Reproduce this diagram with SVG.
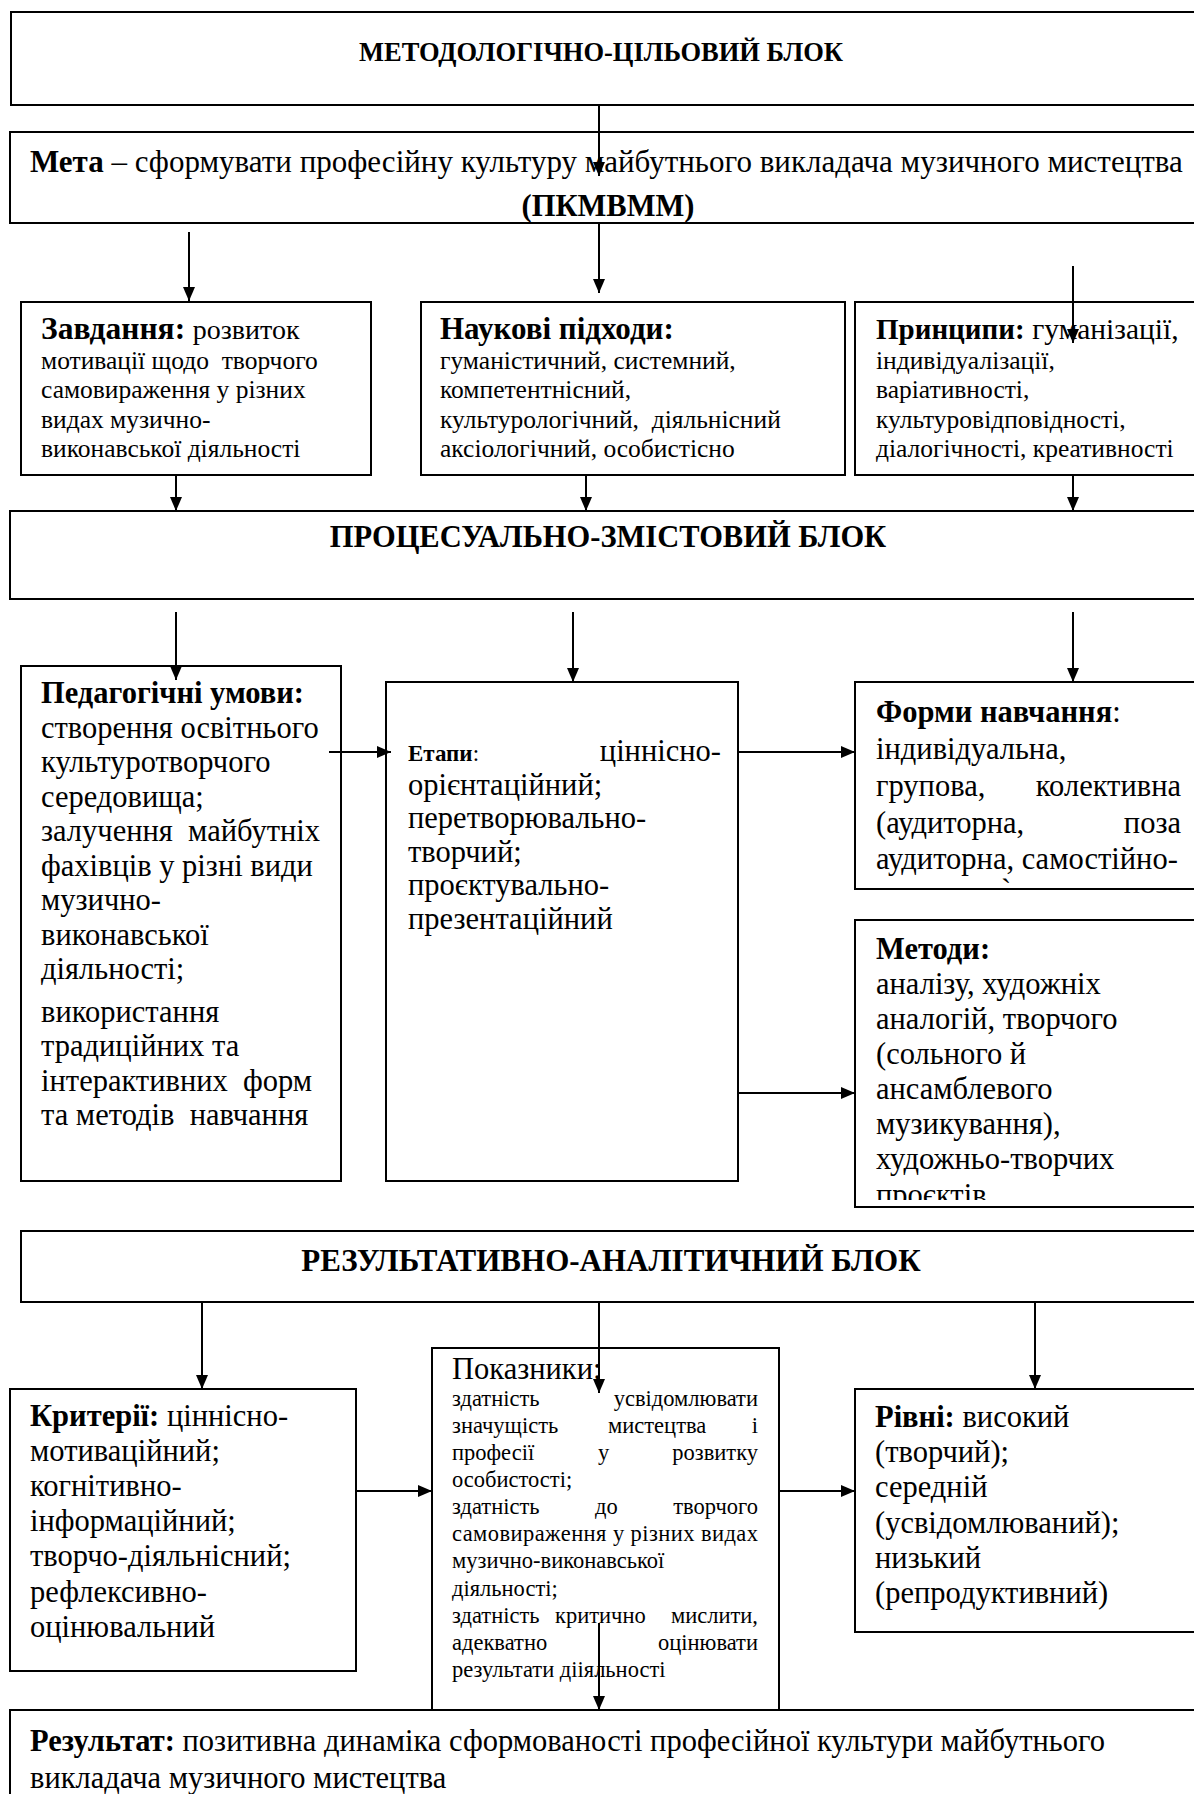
<svg xmlns="http://www.w3.org/2000/svg" width="1194" height="1794" viewBox="0 0 1194 1794">
<style>
.box{fill:#fff;stroke:#000;stroke-width:2}
.t{font-family:"Liberation Serif","Times New Roman",serif;font-size:30.5px;fill:#000}
.s{font-size:25.5px}
.xs{font-size:22.5px}
.b{font-weight:bold}
.h{font-weight:bold;font-size:31px}
.title{font-weight:bold;text-anchor:middle}
.e{text-anchor:end}
.conn{stroke:#000;stroke-width:2;fill:none}
</style>
<defs>
<marker id="ah" markerWidth="14" markerHeight="12" refX="14" refY="6" orient="auto" markerUnits="userSpaceOnUse"><path d="M0,0 L14,6 L0,12 z" fill="#000"/></marker>
<clipPath id="clipMet"><rect x="855" y="920" width="340" height="280"/></clipPath>
</defs>
<rect width="1194" height="1794" fill="#fff"/>

<g id="block1">
<rect class="box" x="11" y="12" width="1200" height="93"/>
<text class="t title" x="601" y="61" style="font-size:26.5px">МЕТОДОЛОГІЧНО-ЦІЛЬОВИЙ БЛОК</text>
</g>

<g id="meta">
<rect class="box" x="10" y="132" width="1200" height="91"/>
<text class="t" x="30" y="172" style="font-size:31px"><tspan class="b">Мета</tspan> – сформувати професійну культуру майбутнього викладача музичного мистецтва</text>
<text class="t title" x="608" y="216">(ПКМВММ)</text>
</g>

<g id="zavdannia">
<rect class="box" x="21" y="302" width="350" height="173"/>
<text class="t" x="41" y="339" xml:space="preserve"><tspan class="b" style="font-size:31.5px">Завдання:</tspan> <tspan style="font-size:28px">розвиток</tspan></text>
<text class="t s" x="41" y="369" xml:space="preserve">мотивації щодо  творчого</text>
<text class="t s" x="41" y="398">самовираження у різних</text>
<text class="t s" x="41" y="428">видах музично-</text>
<text class="t s" x="41" y="457">виконавської діяльності</text>
</g>

<g id="pidkhody">
<rect class="box" x="421" y="302" width="424" height="173"/>
<text class="t h" x="440" y="339">Наукові підходи:</text>
<text class="t s" x="440" y="369">гуманістичний, системний,</text>
<text class="t s" x="440" y="398">компетентнісний,</text>
<text class="t s" x="440" y="428" xml:space="preserve">культурологічний,  діяльнісний</text>
<text class="t s" x="440" y="457">аксіологічний, особистісно</text>
</g>

<g id="pryntsypy">
<rect class="box" x="855" y="302" width="360" height="173"/>
<text class="t" x="876" y="339" xml:space="preserve"><tspan class="b" style="font-size:29px">Принципи:</tspan> <tspan style="font-size:29.5px">гуманізації,</tspan></text>
<text class="t s" x="876" y="369">індивідуалізації,</text>
<text class="t s" x="876" y="398">варіативності,</text>
<text class="t s" x="876" y="428">культуровідповідності,</text>
<text class="t s" x="876" y="457">діалогічності, креативності</text>
</g>

<g id="block2">
<rect class="box" x="10" y="511" width="1200" height="88"/>
<text class="t title" x="608" y="547">ПРОЦЕСУАЛЬНО-ЗМІСТОВИЙ БЛОК</text>
</g>

<g id="umovy">
<rect class="box" x="21" y="666" width="320" height="515"/>
<text class="t b" x="41" y="703">Педагогічні умови:</text>
<text class="t" x="41" y="737.5">створення освітнього</text>
<text class="t" x="41" y="772">культуротворчого</text>
<text class="t" x="41" y="806.5">середовища;</text>
<text class="t" x="41" y="841" xml:space="preserve">залучення  майбутніх</text>
<text class="t" x="41" y="875.5">фахівців у різні види</text>
<text class="t" x="41" y="910">музично-</text>
<text class="t" x="41" y="944.5">виконавської</text>
<text class="t" x="41" y="979">діяльності;</text>
<text class="t" x="41" y="1021.5">використання</text>
<text class="t" x="41" y="1056">традиційних та</text>
<text class="t" x="41" y="1090.5" xml:space="preserve">інтерактивних  форм</text>
<text class="t" x="41" y="1125" xml:space="preserve">та методів  навчання</text>
</g>

<g id="etapy">
<rect class="box" x="386" y="682" width="352" height="499"/>
<text class="t" x="408" y="761" style="font-size:23px"><tspan class="b">Етапи</tspan>:</text>
<text class="t e" x="721" y="761">ціннісно-</text>
<text class="t" x="408" y="794.5">орієнтаційний;</text>
<text class="t" x="408" y="828">перетворювально-</text>
<text class="t" x="408" y="861.5">творчий;</text>
<text class="t" x="408" y="895">проєктувально-</text>
<text class="t" x="408" y="928.5">презентаційний</text>
</g>

<g id="formy">
<rect class="box" x="855" y="682" width="360" height="207"/>
<text class="t" x="876" y="722"><tspan class="b">Форми навчання</tspan>:</text>
<text class="t" x="876" y="759">індивідуальна,</text>
<text class="t" x="876" y="796">групова,</text>
<text class="t e" x="1181" y="796">колективна</text>
<text class="t" x="876" y="833">(аудиторна,</text>
<text class="t e" x="1181" y="833">поза</text>
<text class="t" x="876" y="869">аудиторна, самостійно-</text>
<text class="t" x="1001" y="900">`</text>
</g>

<g id="metody">
<rect class="box" x="855" y="920" width="360" height="287"/>
<g clip-path="url(#clipMet)">
<text class="t b" x="876" y="959">Методи:</text>
<text class="t" x="876" y="994">аналізу, художніх</text>
<text class="t" x="876" y="1029">аналогій, творчого</text>
<text class="t" x="876" y="1064">(сольного й</text>
<text class="t" x="876" y="1099">ансамблевого</text>
<text class="t" x="876" y="1134">музикування),</text>
<text class="t" x="876" y="1169">художньо-творчих</text>
<text class="t" x="876" y="1205">проєктів</text>
</g>
</g>

<g id="block3">
<rect class="box" x="21" y="1231" width="1200" height="71"/>
<text class="t title" x="611" y="1271" style="font-size:31px">РЕЗУЛЬТАТИВНО-АНАЛІТИЧНИЙ БЛОК</text>
</g>

<g id="kryterii">
<rect class="box" x="10" y="1389" width="346" height="282"/>
<text class="t" x="30" y="1426"><tspan class="b">Критерії:</tspan> ціннісно-</text>
<text class="t" x="30" y="1461">мотиваційний;</text>
<text class="t" x="30" y="1496">когнітивно-</text>
<text class="t" x="30" y="1531">інформаційний;</text>
<text class="t" x="30" y="1566">творчо-діяльнісний;</text>
<text class="t" x="30" y="1602">рефлексивно-</text>
<text class="t" x="30" y="1637">оцінювальний</text>
</g>

<g id="pokaznyky">
<rect class="box" x="432" y="1348" width="347" height="362"/>
<text class="t" x="452" y="1379">Показники:</text>
<text class="t xs" x="452" y="1406">здатність</text>
<text class="t xs e" x="758" y="1406">усвідомлювати</text>
<text class="t xs" x="452" y="1433">значущість</text>
<text class="t xs" x="608" y="1433">мистецтва</text>
<text class="t xs e" x="758" y="1433">і</text>
<text class="t xs" x="452" y="1460">професії</text>
<text class="t xs" x="598" y="1460">у</text>
<text class="t xs e" x="758" y="1460">розвитку</text>
<text class="t xs" x="452" y="1487">особистості;</text>
<text class="t xs" x="452" y="1514">здатність</text>
<text class="t xs" x="595" y="1514">до</text>
<text class="t xs e" x="758" y="1514">творчого</text>
<text class="t xs" x="452" y="1541" textLength="306" lengthAdjust="spacing">самовираження у різних видах</text>
<text class="t xs" x="452" y="1568">музично-виконавської</text>
<text class="t xs" x="452" y="1596">діяльності;</text>
<text class="t xs" x="452" y="1623">здатність</text>
<text class="t xs" x="555" y="1623">критично</text>
<text class="t xs e" x="758" y="1623">мислити,</text>
<text class="t xs" x="452" y="1650">адекватно</text>
<text class="t xs e" x="758" y="1650">оцінювати</text>
<text class="t xs" x="452" y="1677">результати дііяльності</text>
</g>

<g id="rivni">
<rect class="box" x="855" y="1389" width="360" height="243"/>
<text class="t" x="875" y="1427"><tspan class="b">Рівні:</tspan> високий</text>
<text class="t" x="875" y="1462">(творчий);</text>
<text class="t" x="875" y="1497">середній</text>
<text class="t" x="875" y="1533">(усвідомлюваний);</text>
<text class="t" x="875" y="1568">низький</text>
<text class="t" x="875" y="1603">(репродуктивний)</text>
</g>

<g id="rezultat">
<rect class="box" x="10" y="1710" width="1200" height="100"/>
<text class="t" x="30" y="1751"><tspan class="b">Результат:</tspan> позитивна динаміка сформованості професійної культури майбутнього</text>
<text class="t" x="30" y="1788">викладача музичного мистецтва</text>
</g>

<g id="connectors">
<line class="conn" x1="599" y1="105" x2="599" y2="176" marker-end="url(#ah)"/>
<line class="conn" x1="189" y1="232" x2="189" y2="301" marker-end="url(#ah)"/>
<line class="conn" x1="599" y1="223" x2="599" y2="293" marker-end="url(#ah)"/>
<line class="conn" x1="1073" y1="266" x2="1073" y2="343" marker-end="url(#ah)"/>
<line class="conn" x1="176" y1="475" x2="176" y2="511" marker-end="url(#ah)"/>
<line class="conn" x1="586" y1="475" x2="586" y2="511" marker-end="url(#ah)"/>
<line class="conn" x1="1073" y1="475" x2="1073" y2="511" marker-end="url(#ah)"/>
<line class="conn" x1="176" y1="612" x2="176" y2="680" marker-end="url(#ah)"/>
<line class="conn" x1="573" y1="612" x2="573" y2="682" marker-end="url(#ah)"/>
<line class="conn" x1="1073" y1="612" x2="1073" y2="682" marker-end="url(#ah)"/>
<line class="conn" x1="329" y1="752" x2="391" y2="752" marker-end="url(#ah)"/>
<line class="conn" x1="738" y1="752" x2="855" y2="752" marker-end="url(#ah)"/>
<line class="conn" x1="738" y1="1093" x2="855" y2="1093" marker-end="url(#ah)"/>
<line class="conn" x1="202" y1="1302" x2="202" y2="1389" marker-end="url(#ah)"/>
<line class="conn" x1="599" y1="1302" x2="599" y2="1393" marker-end="url(#ah)"/>
<line class="conn" x1="1035" y1="1302" x2="1035" y2="1389" marker-end="url(#ah)"/>
<line class="conn" x1="356" y1="1491" x2="432" y2="1491" marker-end="url(#ah)"/>
<line class="conn" x1="779" y1="1491" x2="855" y2="1491" marker-end="url(#ah)"/>
<line class="conn" x1="599" y1="1623" x2="599" y2="1710" marker-end="url(#ah)"/>
</g>
</svg>
